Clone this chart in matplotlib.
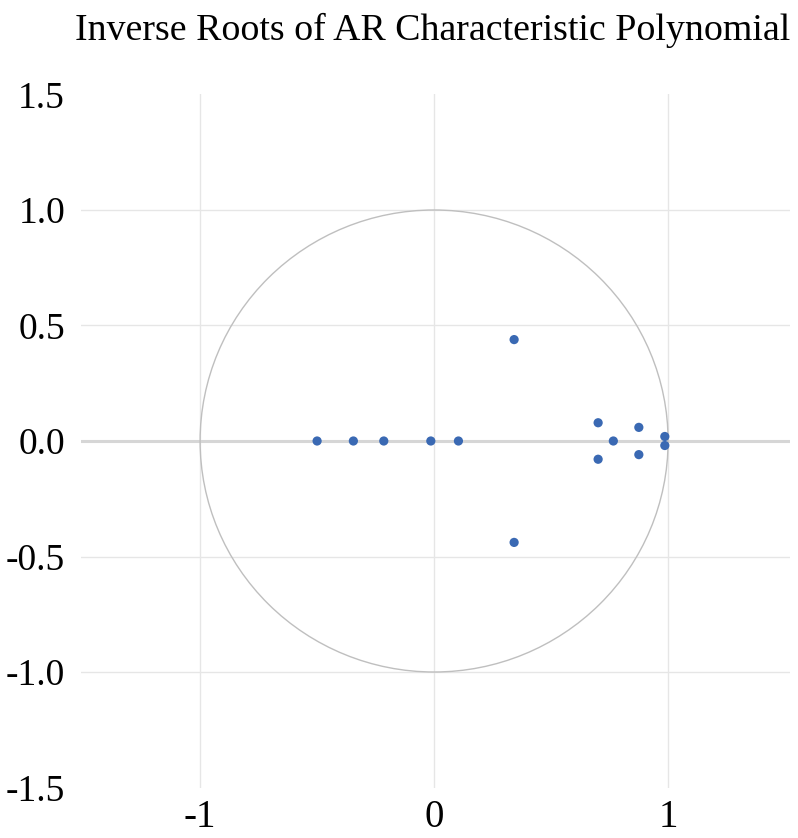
import matplotlib
matplotlib.use("Agg")
import matplotlib.pyplot as plt
from matplotlib.patches import Circle

plt.rcParams['font.family'] = ['Liberation Serif', 'DejaVu Serif']

title = "Inverse Roots of AR Characteristic Polynomial"
real_parts = [-0.500, -0.345, -0.215, -0.014, 0.104, 0.766,
              0.342, 0.342, 0.701, 0.701, 0.875, 0.875, 0.986, 0.986]
imag_parts = [0.0, 0.0, 0.0, 0.0, 0.0, 0.0,
              0.439, -0.439, 0.079, -0.079, 0.059, -0.059, 0.0195, -0.0195]
x_ticks = [-1, 0, 1]
x_tick_labels = ["-1", "0", "1"]
y_ticks = [-1.5, -1.0, -0.5, 0.0, 0.5, 1.0, 1.5]
y_tick_labels = ["-1.5", "-1.0", "-0.5", "0.0", "0.5", "1.0", "1.5"]
y_grid = [-1.0, -0.5, 0.5, 1.0]

W, H = 798, 838
fig = plt.figure(figsize=(W / 100, H / 100), dpi=100)
left, right, top, bottom = 81, 790, 94.5, 787.5
ax = fig.add_axes([left / W, (H - bottom) / H, (right - left) / W, (bottom - top) / H])
ax.set_xlim(-1.509, 1.521)
ax.set_ylim(-1.5, 1.5)
for s in ax.spines.values():
    s.set_visible(False)

for yv in y_grid:
    ax.axhline(yv, color='#e6e6e6', lw=1.0, zorder=0)
for xv in x_ticks:
    ax.axvline(xv, color='#e6e6e6', lw=1.0, zorder=0)
ax.axhline(0, color='#d6d6d6', lw=2.2, zorder=1)

ax.add_patch(Circle((0, 0), 1.0, fill=False, edgecolor='#bfbfbf', lw=1.0, zorder=2))

ax.scatter(real_parts, imag_parts, s=44, color='#3a69b3', edgecolors='none', zorder=3)

ax.set_xticks(x_ticks)
ax.set_xticklabels(x_tick_labels, fontsize=28)
ax.set_yticks(y_ticks)
ax.set_yticklabels(y_tick_labels, fontsize=27)
ax.tick_params(axis='both', length=0)
ax.tick_params(axis='x', pad=8.5)
ax.tick_params(axis='y', pad=11.5)

fig.text(75 / W, 1 - 40 / H, title, fontsize=27.3, ha='left', va='baseline')

fig.savefig("out.png", dpi=100)
